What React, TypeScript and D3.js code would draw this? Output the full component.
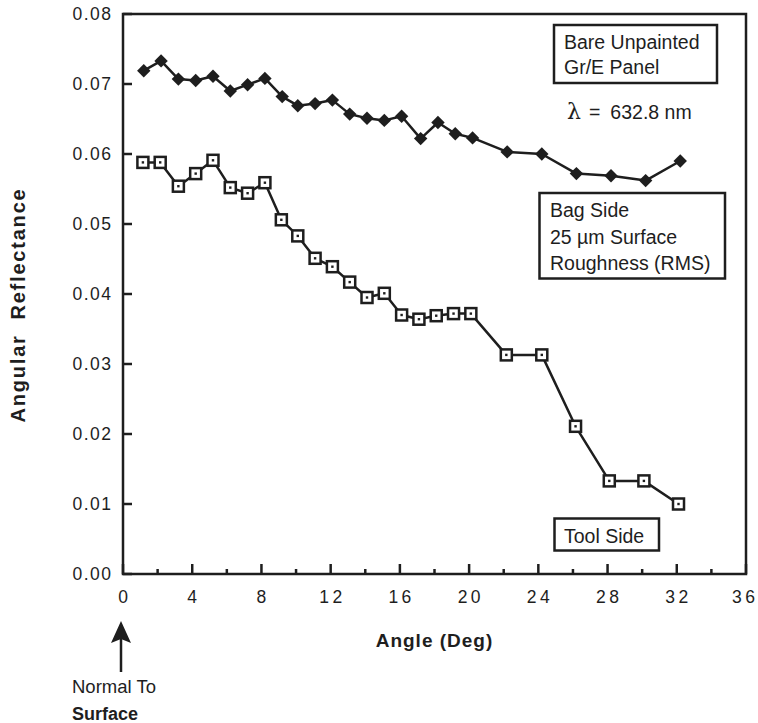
import React from "react";
import * as d3 from "d3";

const W = 758;
const H = 723;

const bareAngles = [1.2, 2.2, 3.2, 4.2, 5.2, 6.2, 7.2, 8.2, 9.2, 10.1, 11.1, 12.1, 13.1, 14.1, 15.1, 16.1, 17.2, 18.2, 19.2, 20.2, 22.2, 24.2, 26.2, 28.2, 30.2, 32.2];
const bareValues = [0.0719, 0.0733, 0.0707, 0.0705, 0.0711, 0.069, 0.0699, 0.0708, 0.0682, 0.0669, 0.0672, 0.0677, 0.0657, 0.0651, 0.0648, 0.0654, 0.0622, 0.0645, 0.0629, 0.0623, 0.0603, 0.06, 0.0572, 0.0569, 0.0562, 0.059];

const toolAngles = [1.15, 2.15, 3.2, 4.2, 5.2, 6.2, 7.2, 8.2, 9.15, 10.1, 11.1, 12.1, 13.1, 14.1, 15.1, 16.1, 17.1, 18.1, 19.1, 20.1, 22.15, 24.2, 26.15, 28.1, 30.1, 32.1];
const toolValues = [0.0588, 0.0588, 0.0554, 0.0572, 0.0591, 0.0552, 0.0544, 0.0559, 0.0506, 0.0483, 0.0451, 0.0439, 0.0417, 0.0395, 0.0401, 0.037, 0.0364, 0.0369, 0.0372, 0.0372, 0.0313, 0.0313, 0.0211, 0.0133, 0.0133, 0.01];

const xMajorTicks = [0, 4, 8, 12, 16, 20, 24, 28, 32, 36];
const xMinorTicks = [2, 6, 10, 14, 18, 22, 26, 30, 34];
const yTicks = [0, 0.01, 0.02, 0.03, 0.04, 0.05, 0.06, 0.07, 0.08];

const FONT = "'Liberation Sans', Arial, Helvetica, sans-serif";
const INK = "#1e1e1e";

export default function App() {
  const x = d3.scaleLinear().domain([0, 36]).range([123, 746]);
  const y = d3.scaleLinear().domain([0, 0.08]).range([574, 14]);

  const bare = bareAngles.map((a, i) => [a, bareValues[i]] as [number, number]);
  const tool = toolAngles.map((a, i) => [a, toolValues[i]] as [number, number]);

  const line = d3
    .line<[number, number]>()
    .x((d) => x(d[0]))
    .y((d) => y(d[1]));

  const diamond = d3.symbol().type(d3.symbolDiamond2).size(115)();

  const tickLs = 3.5;

  return (
    <svg
      width={W}
      height={H}
      style={{ position: "absolute", left: 0, top: 0, background: "#fff" }}
      fontFamily={FONT}
    >
      <rect x={0} y={0} width={W} height={H} fill="#fff" />
      {/* frame */}
      <rect x={x(0)} y={y(0.08)} width={x(36) - x(0)} height={y(0) - y(0.08)} fill="none" stroke={INK} strokeWidth={2.5} />

      {/* y ticks */}
      {yTicks.map((t) => (
        <g key={"y" + t}>
          <line x1={x(0)} x2={x(0) + 9} y1={y(t)} y2={y(t)} stroke={INK} strokeWidth={2.5} />
          <text x={x(0) - 12 + 1.5} y={y(t)} dy="0.35em" textAnchor="end" fontSize={17.5} letterSpacing={1.5} fill={INK}>
            {t.toFixed(2)}
          </text>
        </g>
      ))}

      {/* x ticks */}
      {xMajorTicks.map((t) => (
        <g key={"x" + t}>
          <line x1={x(t)} x2={x(t)} y1={y(0)} y2={y(0) - 10} stroke={INK} strokeWidth={2.5} />
          <text
            x={x(t) + tickLs / 2 - (t === 36 ? 2.5 : 0)}
            y={603}
            textAnchor="middle"
            fontSize={17.5}
            letterSpacing={tickLs}
            fill={INK}
          >
            {String(t)}
          </text>
        </g>
      ))}
      {xMinorTicks.map((t) => (
        <line key={"xm" + t} x1={x(t)} x2={x(t)} y1={y(0)} y2={y(0) - 5} stroke={INK} strokeWidth={2.5} />
      ))}

      {/* series */}
      <path d={line(bare) || ""} fill="none" stroke={INK} strokeWidth={2.5} strokeLinejoin="round" />
      <path d={line(tool) || ""} fill="none" stroke={INK} strokeWidth={2.5} strokeLinejoin="round" />

      {bare.map((d, i) => (
        <path key={"b" + i} d={diamond || ""} transform={`translate(${x(d[0])},${y(d[1])})`} fill={INK} />
      ))}
      {tool.map((d, i) => (
        <g key={"t" + i} transform={`translate(${x(d[0])},${y(d[1])})`}>
          <rect x={-5.5} y={-5.5} width={11} height={11} fill="#fff" stroke={INK} strokeWidth={2.5} />
          <rect x={-1.2} y={-1.2} width={2.4} height={2.4} fill={INK} />
        </g>
      ))}

      {/* annotation boxes */}
      <rect x={554} y={25} width={163} height={58} fill="#fff" stroke={INK} strokeWidth={2.5} />
      <text x={564} y={48.5} fontSize={19.5} fill={INK}>Bare Unpainted</text>
      <text x={564} y={73.5} fontSize={19.5} fill={INK}>Gr/E Panel</text>

      <text x={567} y={119} fontSize={19.5} fill={INK}>
        <tspan fontFamily="'DejaVu Serif', serif" fontSize={22}>λ</tspan>
        <tspan dx={8}>=</tspan>
        <tspan dx={10}>632.8 nm</tspan>
      </text>

      <rect x={539.5} y={193} width={185.5} height={85.5} fill="#fff" stroke={INK} strokeWidth={2.5} />
      <text x={550} y={216.5} fontSize={19.5} fill={INK}>Bag Side</text>
      <text x={550} y={244} fontSize={19.5} fill={INK}>25 µm Surface</text>
      <text x={550} y={270} fontSize={19.5} fill={INK}>Roughness (RMS)</text>

      <rect x={554.5} y={518.5} width={104.5} height={32} fill="#fff" stroke={INK} strokeWidth={2.5} />
      <text x={564} y={542.5} fontSize={19.5} fill={INK}>Tool Side</text>

      {/* axis titles */}
      <text x={x(18)} y={647} textAnchor="middle" fontSize={19} fontWeight="bold" letterSpacing={1} fill={INK}>
        Angle (Deg)
      </text>
      <text
        transform={`translate(25,305) rotate(-90)`}
        textAnchor="middle"
        fontSize={20}
        fontWeight="bold"
        letterSpacing={1.8}
        fill={INK}
        style={{ whiteSpace: "pre" }}
      >
        {"Angular  Reflectance"}
      </text>

      {/* normal to surface arrow */}
      <line x1={121} x2={121} y1={672} y2={636} stroke={INK} strokeWidth={2.5} />
      <path d="M121,621 L131,643 L121,639 L111,643 Z" fill={INK} />
      <text x={72} y={693} fontSize={18.5} fill={INK}>Normal To</text>
      <text x={72} y={720} fontSize={18} fontWeight="bold" fill={INK}>Surface</text>
    </svg>
  );
}
